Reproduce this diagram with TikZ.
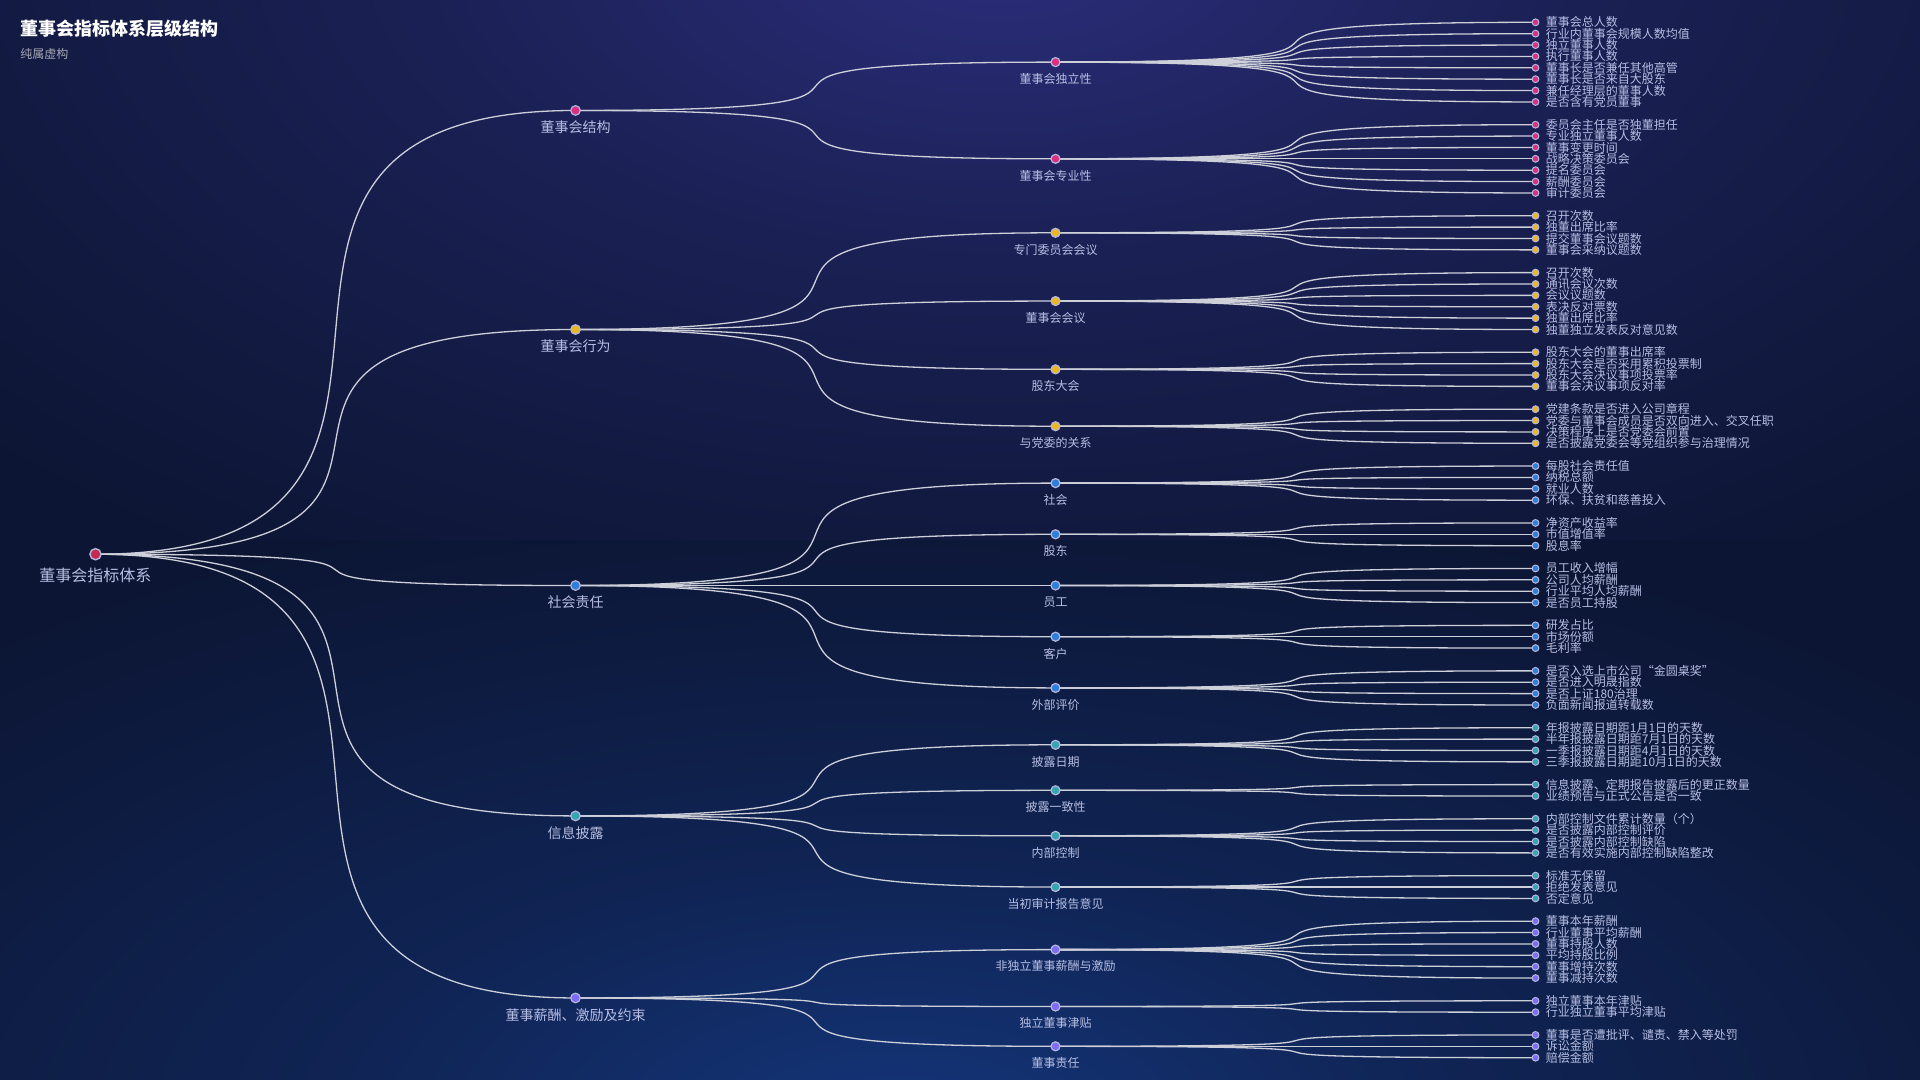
\documentclass[tikz,border=0pt]{standalone}
\usepackage{fontspec}
\setmainfont{Noto Sans CJK SC}
\pgfdeclarelayer{bglayer}
\pgfdeclarelayer{edgelayer}
\pgfsetlayers{bglayer,edgelayer,main}
\definecolor{bgbase}{HTML}{0C1533}
\definecolor{glowtop}{HTML}{2C2E7C}
\definecolor{glowbot}{HTML}{14357A}
\colorlet{glowtopb}{glowtop!45!bgbase}
\colorlet{glowbotb}{glowbot!45!bgbase}
\definecolor{edgecol}{HTML}{CDCFD9}
\definecolor{ringcol}{HTML}{B4B8E0}
\definecolor{labcol}{HTML}{B7BEE3}
\definecolor{subcol}{HTML}{A6A8B4}
\definecolor{croot}{HTML}{C42A50}
\definecolor{cpink}{HTML}{DC2F80}
\definecolor{cgold}{HTML}{E9B824}
\definecolor{cblue}{HTML}{2E7FD8}
\definecolor{cteal}{HTML}{36A6AE}
\definecolor{cpurp}{HTML}{7E6CF2}
\pgfdeclareradialshading{topglowsh}{\pgfpointorigin}{color(0bp)=(glowtop); color(5bp)=(glowtopb); color(12bp)=(bgbase); color(50bp)=(bgbase)}
\pgfdeclareradialshading{botglowsh}{\pgfpointorigin}{color(0bp)=(glowbot); color(5bp)=(glowbotb); color(12bp)=(bgbase); color(50bp)=(bgbase)}
\tikzset{
  linkline/.style={draw=edgecol, line width=0.65pt},
  dotbase/.style={circle, draw=ringcol, inner sep=0pt, outer sep=0pt},
  leafdot/.style={dotbase, minimum size=3.4pt, line width=0.5pt},
  dottwo/.style={dotbase, minimum size=4.5pt, line width=0.6pt},
  dotone/.style={dotbase, minimum size=4.8pt, line width=0.6pt},
  dotroot/.style={dotbase, minimum size=5.6pt, line width=0.7pt},
  leaflab/.style={font=\fontsize{6}{7}\selectfont, text=labcol, inner sep=0pt, anchor=west, xshift=5pt},
  twolab/.style={font=\fontsize{6}{7}\selectfont, text=labcol, inner sep=0pt, anchor=center, yshift=-8.4pt},
  onelab/.style={font=\fontsize{7}{8}\selectfont, text=labcol, inner sep=0pt, anchor=center, yshift=-8.4pt},
  rootlab/.style={font=\fontsize{8}{9}\selectfont, text=labcol, inner sep=0pt, anchor=center, yshift=-10.4pt},
}
\newcommand\linkit[2]{%
  \begin{pgfonlayer}{edgelayer}
  \draw[linkline] (#1.center) .. controls +(440,0) and +(-440,0) .. (#2.center);
  \end{pgfonlayer}}
% name, x, u, dot style, fill, label style, text
\newcommand\levnode[7]{%
  \node[#4, fill=#5] (#1) at (#2,#3) {};
  \node[#6] (#1-t) at (#1.center) {#7};}
\newcommand\leafgroup[4]{%
  \foreach \lbl [count=\i from 0] in {#4} {
    \node[leafdot, fill=#3] (#1-\i) at (1535.5,{#2+\i}) {};
    \node[leaflab] (#1-\i-t) at (#1-\i.center) {\lbl};
    \linkit{#1}{#1-\i}
  }}
\begin{document}
\begin{tikzpicture}[x=0.5pt,y=-0.5pt]
\useasboundingbox (0,0) rectangle (1920,1080);
\begin{pgfonlayer}{bglayer}
  \fill[bgbase] (0,0) rectangle (1920,1080);
  \begin{scope}
    \clip (0,0) rectangle (1920,540);
    \shade[shading=topglowsh] (-1917,-1643) rectangle (3917,1523);
  \end{scope}
  \begin{scope}
    \clip (0,540) rectangle (1920,1080);
    \shade[shading=botglowsh] (-2017,-245) rectangle (3817,2505);
  \end{scope}
\end{pgfonlayer}
\node[anchor=west, inner sep=0pt, font=\fontsize{9}{10}\bfseries, text=white] (title) at (20,29) {董事会指标体系层级结构};
\node[anchor=west, inner sep=0pt, font=\fontsize{6}{7}\selectfont, text=subcol] (subtitle) at (20,54) {纯属虚构};

\begin{scope}[x=0.5pt, y=-5.689pt, yshift=-11.15pt]
  % root
  \levnode{root}{95.5}{46.75}{dotroot}{croot}{rootlab}{董事会指标体系}
  % level 1
  \levnode{l1}{575.5}{7.75}{dotone}{cpink}{onelab}{董事会结构}
  \levnode{l2}{575.5}{27}{dotone}{cgold}{onelab}{董事会行为}
  \levnode{l3}{575.5}{49.5}{dotone}{cblue}{onelab}{社会责任}
  \levnode{l4}{575.5}{69.75}{dotone}{cteal}{onelab}{信息披露}
  \levnode{l5}{575.5}{85.75}{dotone}{cpurp}{onelab}{董事薪酬、激励及约束}
  % level 2
  \levnode{g1}{1055.5}{3.5}{dottwo}{cpink}{twolab}{董事会独立性}
  \levnode{g2}{1055.5}{12}{dottwo}{cpink}{twolab}{董事会专业性}
  \levnode{g3}{1055.5}{18.5}{dottwo}{cgold}{twolab}{专门委员会会议}
  \levnode{g4}{1055.5}{24.5}{dottwo}{cgold}{twolab}{董事会会议}
  \levnode{g5}{1055.5}{30.5}{dottwo}{cgold}{twolab}{股东大会}
  \levnode{g6}{1055.5}{35.5}{dottwo}{cgold}{twolab}{与党委的关系}
  \levnode{g7}{1055.5}{40.5}{dottwo}{cblue}{twolab}{社会}
  \levnode{g8}{1055.5}{45}{dottwo}{cblue}{twolab}{股东}
  \levnode{g9}{1055.5}{49.5}{dottwo}{cblue}{twolab}{员工}
  \levnode{g10}{1055.5}{54}{dottwo}{cblue}{twolab}{客户}
  \levnode{g11}{1055.5}{58.5}{dottwo}{cblue}{twolab}{外部评价}
  \levnode{g12}{1055.5}{63.5}{dottwo}{cteal}{twolab}{披露日期}
  \levnode{g13}{1055.5}{67.5}{dottwo}{cteal}{twolab}{披露一致性}
  \levnode{g14}{1055.5}{71.5}{dottwo}{cteal}{twolab}{内部控制}
  \levnode{g15}{1055.5}{76}{dottwo}{cteal}{twolab}{当初审计报告意见}
  \levnode{g16}{1055.5}{81.5}{dottwo}{cpurp}{twolab}{非独立董事薪酬与激励}
  \levnode{g17}{1055.5}{86.5}{dottwo}{cpurp}{twolab}{独立董事津贴}
  \levnode{g18}{1055.5}{90}{dottwo}{cpurp}{twolab}{董事责任}
  % edges root -> level 1 -> level 2
  \foreach \n in {l1,l2,l3,l4,l5} { \linkit{root}{\n} }
  \linkit{l1}{g1} \linkit{l1}{g2}
  \foreach \n in {g3,g4,g5,g6} { \linkit{l2}{\n} }
  \foreach \n in {g7,g8,g9,g10,g11} { \linkit{l3}{\n} }
  \foreach \n in {g12,g13,g14,g15} { \linkit{l4}{\n} }
  \foreach \n in {g16,g17,g18} { \linkit{l5}{\n} }
  % leaves
  \leafgroup{g1}{0}{cpink}{董事会总人数,行业内董事会规模人数均值,独立董事人数,执行董事人数,董事长是否兼任其他高管,董事长是否来自大股东,兼任经理层的董事人数,是否含有党员董事}
  \leafgroup{g2}{9}{cpink}{委员会主任是否独董担任,专业独立董事人数,董事变更时间,战略决策委员会,提名委员会,薪酬委员会,审计委员会}
  \leafgroup{g3}{17}{cgold}{召开次数,独董出席比率,提交董事会议题数,董事会采纳议题数}
  \leafgroup{g4}{22}{cgold}{召开次数,通讯会议次数,会议议题数,表决反对票数,独董出席比率,独董独立发表反对意见数}
  \leafgroup{g5}{29}{cgold}{股东大会的董事出席率,股东大会是否采用累积投票制,股东大会决议事项投票率,董事会决议事项反对率}
  \leafgroup{g6}{34}{cgold}{党建条款是否进入公司章程,党委与董事会成员是否双向进入、交叉任职,决策程序上是否党委会前置,是否披露党委会等党组织参与治理情况}
  \leafgroup{g7}{39}{cblue}{每股社会责任值,纳税总额,就业人数,环保、扶贫和慈善投入}
  \leafgroup{g8}{44}{cblue}{净资产收益率,市值增值率,股息率}
  \leafgroup{g9}{48}{cblue}{员工收入增幅,公司人均薪酬,行业平均人均薪酬,是否员工持股}
  \leafgroup{g10}{53}{cblue}{研发占比,市场份额,毛利率}
  \leafgroup{g11}{57}{cblue}{是否入选上市公司“金圆桌奖”,是否进入明晟指数,是否上证180治理,负面新闻报道转载数}
  \leafgroup{g12}{62}{cteal}{年报披露日期距1月1日的天数,半年报披露日期距7月1日的天数,一季报披露日期距4月1日的天数,三季报披露日期距10月1日的天数}
  \leafgroup{g13}{67}{cteal}{信息披露、定期报告披露后的更正数量,业绩预告与正式公告是否一致}
  \leafgroup{g14}{70}{cteal}{内部控制文件累计数量（个）,是否披露内部控制评价,是否披露内部控制缺陷,是否有效实施内部控制缺陷整改}
  \leafgroup{g15}{75}{cteal}{标准无保留,拒绝发表意见,否定意见}
  \leafgroup{g16}{79}{cpurp}{董事本年薪酬,行业董事平均薪酬,董事持股人数,平均持股比例,董事增持次数,董事减持次数}
  \leafgroup{g17}{86}{cpurp}{独立董事本年津贴,行业独立董事平均津贴}
  \leafgroup{g18}{89}{cpurp}{董事是否遭批评、谴责、禁入等处罚,诉讼金额,赔偿金额}
\end{scope}
\end{tikzpicture}
\end{document}
